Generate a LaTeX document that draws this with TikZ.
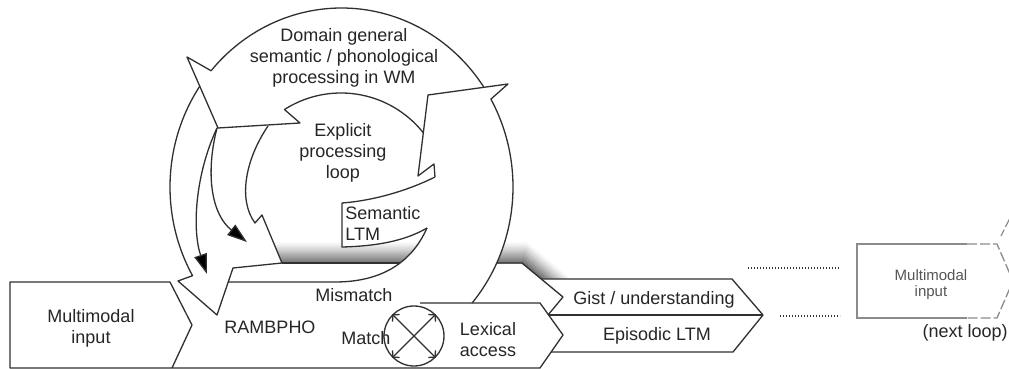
\documentclass[tikz,border=0pt]{standalone}
\usepackage{fontspec}
\setmainfont{Liberation Sans}
\usetikzlibrary{arrows.meta}
\definecolor{ln}{HTML}{303030}
\definecolor{tx}{HTML}{262626}
\definecolor{gl}{HTML}{8C8C8C}
\definecolor{gt}{HTML}{555555}
\begin{document}
\begin{tikzpicture}[x=0.5pt,y=-0.5pt,
  ol/.style={draw=ln, line width=0.65pt, line join=round},
  lbl/.style={inner sep=0pt, text=tx, font=\fontsize{9}{10.5}\selectfont, align=center},
  slbl/.style={inner sep=0pt, text=gt, font=\fontsize{7.5}{8}\selectfont, align=center},
  thinarrow/.style={ol, -{Triangle[length=10pt,width=6.5pt,fill=black]}},
  xarrow/.style={ol, {Straight Barb[length=2.2pt,width=5pt]}-{Straight Barb[length=2.2pt,width=5pt]}},
  dotline/.style={draw=ln, line width=0.6pt, dash pattern=on 0.6pt off 0.9pt},
  dashline/.style={draw=gl, line width=0.65pt, dash pattern=on 5pt off 1.5pt}]
\useasboundingbox (0,0) rectangle (1009,369);
\fill[white] (0,0) rectangle (1009,369);

% soft drop shadow of the back chevron
\foreach \k in {0,...,21}{
  \pgfmathsetmacro\op{0.5*(1-\k/22)^1.4}
  \draw[black, opacity=\op, line width=0.55pt]
    ({282-0.417*\k},{263-\k}) -- ({522+0.25*\k},{263-\k}) -- ({563+0.25*\k},{297-\k});
}

% white fills hiding the shadow
\fill[white] (342,203) -- (342,247) .. controls (385,246) and (410,238) .. (427,228)
  -- (435,177) .. controls (405,192) and (370,201) .. (342,203) -- cycle;
\fill[white] (427,228) .. controls (415,255) and (390,282) .. (335,282) -- (472,303)
  -- plot[domain=-40.4:0,samples=40] ({341.5+171.5*cos(\x)},{187-179*sin(\x)})
  -- (435,177) -- cycle;
\fill[white] (541,279) -- (732,279) -- (763,315) -- (733,352) -- (551,352)
  -- (563,335) -- (548,315) -- (563,297) -- cycle;

% bottom row: Multimodal input, RAMBPHO, Lexical access
\draw[ol] (172,368) -- (192,325) -- (170,282) -- (10,282) -- (10,368) -- (540,368)
  -- (563,335) -- (540,303) -- (420,303);
% RAMBPHO top rising into the crescent
\draw[ol] (228,282) -- (335,282) .. controls (390,282) and (415,255) .. (427,228);
% back chevron (visible parts)
\draw[ol] (282,263) -- (400,263);
\draw[ol] (497,263) -- (522,263) -- (563,297) -- (548,315);
% Gist / Episodic chevron
\draw[ol] (541,279) -- (732,279) -- (763,315) -- (733,352) -- (551,352);
\draw[ol] (548,315) -- (763,315);

% Semantic LTM tab
\draw[ol] (435,177) .. controls (405,192) and (370,201) .. (342,203) -- (342,247)
  .. controls (385,246) and (410,238) .. (427,228);

% right band rising with its arrowhead
\draw[ol] (435,177) -- (434,164) -- (418,176) -- (428,95) -- (508,84)
  -- plot[domain=29.4:-40.4,samples=70] ({341.5+171.5*cos(\x)},{187-179*sin(\x)});

% top band (Domain general ...) with arrowhead
\draw[ol] plot[domain=34:139.5,samples=90] ({341.5+171.5*cos(\x)},{187-179*sin(\x)})
  -- (187,57) -- (218,128) -- (300,123) -- (285,110)
  -- plot[domain=122.5:38.4,samples=60] ({341+105*cos(\x)},{198-105*sin(\x)});

% left band descending with its arrowhead
\draw[ol] plot[domain=145.7:209.7,samples=50] ({341.5+171.5*cos(\x)},{187-179*sin(\x)})
  -- (178,281) -- (217,315) -- (233,268) -- (282,263) -- (262,215) -- (255,223)
  .. controls (238,200) and (245,160) .. (268,126);

% thin arrows inside the left band
\coordinate (jn) at (217,128);
\coordinate (ta) at (207,274);
\coordinate (tb) at (247,242);
\draw[thinarrow] (jn) .. controls (195,175) and (192,230) .. (ta);
\draw[thinarrow] (jn) .. controls (205,175) and (212,215) .. (tb);

% match / mismatch switch
\node[circle, draw=ln, line width=0.65pt, fill=white, minimum size=30pt, inner sep=0pt] (sw) at (414,336) {};
\draw[xarrow] (sw.north west) -- (sw.south east);
\draw[xarrow] (sw.north east) -- (sw.south west);

% dotted links to the next loop
\coordinate (d1a) at (748,268); \coordinate (d1b) at (840,268);
\coordinate (d2a) at (780,316); \coordinate (d2b) at (840,316);
\draw[dotline] (d1a) -- (d1b);
\draw[dotline] (d2a) -- (d2b);

% next loop box
\draw[draw=gl, line width=0.65pt] (967,244) -- (857,244) -- (857,318) -- (967,318);
\draw[dashline] (967,244) -- (997,244) -- (1013,281) -- (997,318) -- (967,318);
\draw[dashline] (1010,218) -- (1001,236);

% texts
\node[lbl] (dom) at (344,58) {Domain general\\semantic / phonological\\processing in WM};
\node[lbl] (epl) at (343,153) {Explicit\\processing\\loop};
\node[lbl, align=left, anchor=west] (sem) at (345,223) {Semantic\\LTM};
\node[lbl] (mmi) at (91,328) {Multimodal\\input};
\node[lbl] (ram) at (270,327) {RAMBPHO};
\node[lbl] (mis) at (354,295) {Mismatch};
\node[lbl] (mat) at (366,338) {Match};
\node[lbl] (lex) at (488,340) {Lexical\\access};
\node[lbl] (gis) at (654,300) {Gist / understanding};
\node[lbl] (epi) at (657,336) {Episodic LTM};
\node[slbl] (mm2) at (931,285) {Multimodal\\input};
\node[lbl, anchor=east, text=tx] (nxt) at (1008,333) {(next loop)};
\end{tikzpicture}
\end{document}
